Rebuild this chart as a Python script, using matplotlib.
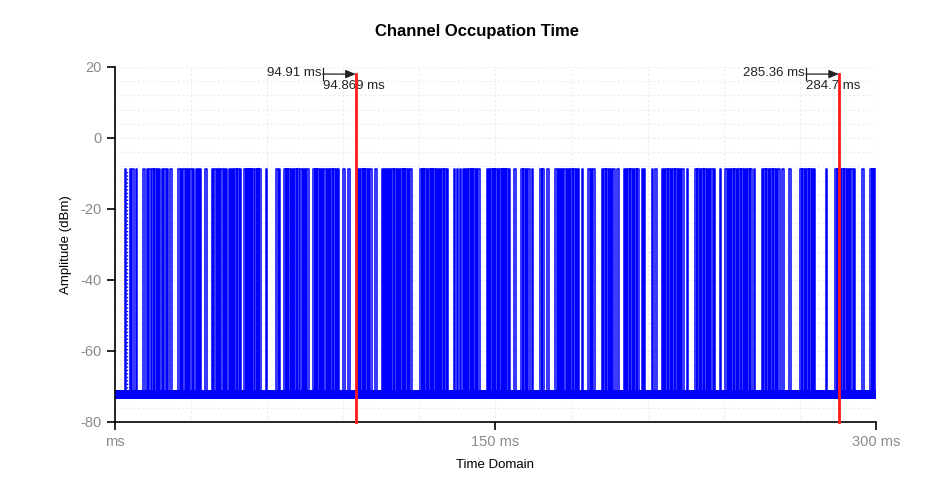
import matplotlib
matplotlib.use("Agg")
import matplotlib.pyplot as plt
from matplotlib.ticker import MultipleLocator
import numpy as np

plt.rcParams["font.family"] = ["Liberation Sans", "DejaVu Sans"]
plt.rcParams["axes.unicode_minus"] = False

# pulse start times (ms)
pulse_starts = [
    3.9, 5.9, 6.8, 8.2,
    11.2, 12.5, 13.5, 14.7, 15.5, 16.4, 17.3, 18.4, 19.4, 20.4, 21.7,
    25.0, 26.0, 26.9, 27.9, 28.7, 29.6, 30.6, 31.8, 32.6, 33.5, 35.5,
    38.2, 39.1, 40.2, 41.0, 41.9, 42.8, 43.6, 44.8, 45.6, 46.4, 47.4, 48.3, 49.2,
    50.9, 51.7, 52.6, 53.4, 54.2, 55.2, 56.1, 56.9,
    59.4, 63.5, 64.6,
    66.8, 67.6, 68.4, 69.2, 70.0, 71.0, 71.9, 73.0, 74.0, 74.8, 75.7,
    78.2, 79.0, 79.8, 80.7, 81.5, 82.4, 83.5, 84.3, 85.2, 86.1, 87.1, 87.9,
    90.0, 92.0,
    95.4, 96.1, 97.0, 97.9, 98.7, 99.6, 100.7, 102.7,
    105.1, 105.9, 106.8, 107.6, 108.4, 109.3, 110.1, 111.0, 111.9, 112.8, 113.6,
    114.5, 115.4, 116.4,
    120.3, 121.1, 122.0, 122.9, 123.8, 124.6, 125.5, 126.4, 127.3, 128.1, 129.0,
    129.9, 130.8,
    133.5, 134.7, 135.9, 137.0, 137.8, 138.6, 139.6, 140.4, 141.2, 142.3, 143.2,
    146.6, 147.4, 148.3, 149.2, 150.0, 150.9, 151.8, 152.6, 153.5, 154.3, 155.2,
    157.4,
    160.2, 161.0, 162.0, 163.0, 164.3, 167.6, 168.4, 170.3,
    173.6, 174.5, 175.4, 176.2, 177.1, 178.0, 178.9, 179.8, 180.7, 181.6, 182.5,
    184.0,
    186.6, 187.5, 188.6,
    191.9, 192.8, 193.7, 194.6, 195.5, 196.4, 197.9,
    200.5, 201.4, 202.3, 203.2, 204.1, 205.0, 205.8, 207.6, 208.5, 211.6, 213.0,
    215.6, 216.4, 217.3, 218.2, 219.1, 220.0, 220.9, 221.8, 222.7, 223.6, 225.4,
    228.7, 229.6, 230.5, 231.4, 232.3, 233.2, 234.1, 235.0, 236.0, 238.4,
    240.6, 241.5, 242.4, 243.3, 244.2, 245.1, 246.0, 246.9, 247.8, 248.7, 249.6,
    250.5, 251.8,
    255.0, 255.9, 256.8, 257.7, 258.6, 259.5, 260.4, 261.5, 263.0, 265.8,
    270.1, 271.0, 271.9, 272.8, 273.7, 274.6, 275.5, 280.1,
    283.9, 284.8, 285.7, 286.6, 287.5, 288.4, 289.3, 290.2, 291.2,
    294.5, 297.7, 298.6, 299.4,
]
pulse_width = 0.6          # ms
pulse_top = -8.8           # dBm
floor_level = -72.3        # dBm
floor_low, floor_high = -73.5, -71.1
trigger_ms = 4.6           # dotted marker next to first pulse

markers_ms = [94.91, 285.36]
marker_left_labels = ["94.91 ms", "285.36 ms"]
marker_right_labels = ["94.869 ms", "284.7 ms"]
arrow_len_ms = 13.0
arrow_level = 18.0

t_end = 300.0

# build the step trace
xs = [0.0]
ys = [floor_level]
for s in pulse_starts:
    e = min(s + pulse_width, t_end)
    xs += [s, s, e, e]
    ys += [floor_level, pulse_top, pulse_top, floor_level]
xs.append(t_end)
ys.append(floor_level)

fig = plt.figure(figsize=(9.37, 4.9), dpi=100)
ax = fig.add_axes([0.1227, 0.1388, 0.8122, 0.7245])

blue = "#0000ff"
ax.fill_between([0.0, t_end], floor_low, floor_high, color=blue, lw=0, zorder=2)
ax.plot(xs, ys, color=blue, lw=1.1, zorder=3)
ax.plot([trigger_ms, trigger_ms], [floor_level, pulse_top], color=blue, lw=1.0,
        ls=(0, (1, 1.5)), zorder=3)

for m, lt, rt in zip(markers_ms, marker_left_labels, marker_right_labels):
    start = m - arrow_len_ms
    ax.plot([m, m], [-80, arrow_level], color="#ff1a1a", lw=2.0, zorder=4,
            clip_on=False)
    ax.annotate("", xy=(m, arrow_level), xytext=(start, arrow_level),
                arrowprops=dict(arrowstyle="-|>,head_width=0.25,head_length=0.6",
                                color="#222222", lw=0.9, shrinkA=0, shrinkB=0),
                zorder=5)
    ax.plot([start, start], [arrow_level - 1.6, arrow_level + 1.6],
            color="#222222", lw=0.9, zorder=5)
    ax.text(start - 0.6, arrow_level + 0.3, lt, ha="right", va="center",
            fontsize=9.5, color="#222222")
    ax.text(start + 0.2, arrow_level - 1.6, rt, ha="left", va="top",
            fontsize=9.5, color="#222222")

ax.set_xlim(0, t_end)
ax.set_ylim(-80, 20)
ax.set_xticks([0, 150, 300])
ax.set_xticklabels(["ms", "150 ms", "300 ms"])
ax.set_yticks([20, 0, -20, -40, -60, -80])
ax.xaxis.set_minor_locator(MultipleLocator(30))
ax.yaxis.set_minor_locator(MultipleLocator(4))
ax.tick_params(axis="both", which="major", labelcolor="#8a8a8a", color="black",
               labelsize=10.5, length=6, width=1.2, direction="out")
ax.tick_params(axis="both", which="minor", length=0)
ax.grid(which="both", color="#ececec", ls=(0, (2, 2)), lw=0.8, zorder=0)
ax.set_axisbelow(True)

for side in ["top", "right"]:
    ax.spines[side].set_visible(False)
for side in ["left", "bottom"]:
    ax.spines[side].set_color("black")
    ax.spines[side].set_linewidth(1.2)

ax.set_xlabel("Time Domain", fontsize=9.5, labelpad=7)
ax.set_ylabel("Amplitude (dBm)", fontsize=9.5, labelpad=6)
fig.text(0.509, 0.935, "Channel Occupation Time", ha="center", va="center",
         fontsize=12, fontweight="bold")

fig.savefig("out.png", dpi=100)
